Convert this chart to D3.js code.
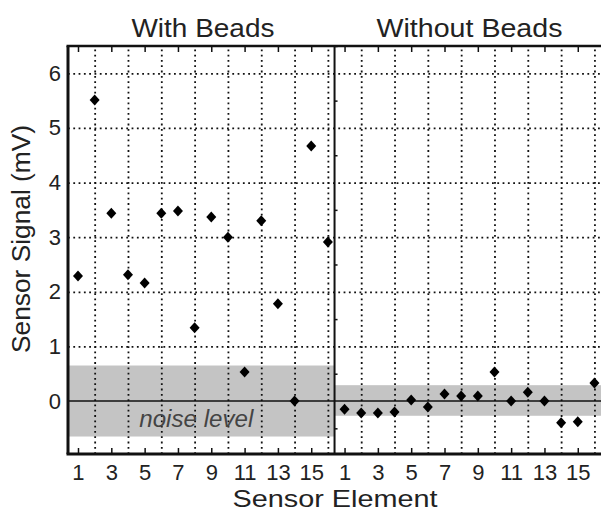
<!DOCTYPE html>
<html>
<head>
<meta charset="utf-8">
<script src="https://cdn.jsdelivr.net/npm/d3@7"></script>
<style>
  body { margin: 0; background: #fff; }
  svg { font-family: "Liberation Sans", Arial, sans-serif; }
  .grid line { stroke: #111; stroke-width: 1.8; stroke-dasharray: 1.8,3.5; }
  .grid path, .lab path, .tk path { display: none; }
  .tk line { stroke: #111; stroke-width: 1.5; }
  .lab text { font-size: 22px; fill: #222; }
</style>
</head>
<body>
<div id="chart"></div>
<script>
/* data */
const elements = [1, 2, 3, 4, 5, 6, 7, 8, 9, 10, 11, 12, 13, 14, 15, 16]
const withBeads = [2.29, 5.51, 3.44, 2.31, 2.16, 3.44, 3.48, 1.34, 3.37, 3.00, 0.53, 3.30, 1.78, 0.00, 4.67, 2.91]
const withoutBeads = [-0.15, -0.22, -0.22, -0.20, 0.02, -0.11, 0.13, 0.09, 0.09, 0.53, 0.00, 0.16, 0.00, -0.40, -0.38, 0.33]
const panelTitles = ["With Beads", "Without Beads"]
const noiseHigh = [0.65, 0.29]
const noiseLow = [-0.65, -0.27]
const xTickLabels = [1, 3, 5, 7, 9, 11, 13, 15]
const gridElements = [2, 4, 6, 8, 10, 12, 14, 16]
const yTicks = [0, 1, 2, 3, 4, 5, 6]
const yGrid = [1, 2, 3, 4, 5, 6]
const yMinor = [-0.5, 0.5, 1.5, 2.5, 3.5, 4.5, 5.5, 6.5]

const W = 601, H = 513
const LEFT = 68, TOP = 46, BOTTOM = 454

const svg = d3.select("#chart").append("svg")
  .attr("width", W)
  .attr("height", H)

// one continuous position axis: panel 1 = 1..16, panel 2 = 17..32
const x = d3.scaleLinear().domain([0.4, 32.4]).range([LEFT, 601.1])
const y = d3.scaleLinear().domain([-0.97, 6.5]).range([BOTTOM, TOP])
const N = elements.length

const panels = [
  { title: panelTitles[0], values: withBeads, offset: 0, hi: noiseHigh[0], lo: noiseLow[0] },
  { title: panelTitles[1], values: withoutBeads, offset: N, hi: noiseHigh[1], lo: noiseLow[1] }
]

const plot = svg.append("g")

// noise bands
plot.selectAll(".band")
  .data(panels)
  .enter().append("rect")
  .attr("class", "band")
  .attr("x", d => x(d.offset + 0.4))
  .attr("width", x(N + 0.4) - x(0.4))
  .attr("y", d => y(d.hi))
  .attr("height", d => y(d.lo) - y(d.hi))
  .attr("fill", "#c4c4c4")

const gridPos = panels.flatMap(p => gridElements.map(e => e + p.offset))
const labelPos = panels.flatMap(p => xTickLabels.map(e => e + p.offset))

// vertical dotted grid
plot.append("g")
  .attr("class", "grid")
  .attr("transform", `translate(0, ${BOTTOM})`)
  .call(d3.axisBottom(x).tickValues(gridPos).tickSize(-(BOTTOM - TOP)).tickFormat(""))

// horizontal dotted grid
plot.append("g")
  .attr("class", "grid")
  .attr("transform", `translate(${LEFT}, 0)`)
  .call(d3.axisLeft(y).tickValues(yGrid).tickSize(-(W - LEFT)).tickFormat(""))

// zero line
plot.append("line")
  .attr("x1", x(0.4)).attr("x2", W)
  .attr("y1", y(0)).attr("y2", y(0))
  .attr("stroke", "#111").attr("stroke-width", 1.6)

// noise label
plot.append("text")
  .attr("x", x(8.1))
  .attr("y", 427)
  .attr("text-anchor", "middle")
  .attr("textLength", 114)
  .attr("lengthAdjust", "spacingAndGlyphs")
  .style("font-size", "24px")
  .style("font-style", "italic")
  .attr("fill", "#444")
  .text("noise level")

// tick marks, inward, top and bottom
plot.append("g")
  .attr("class", "tk")
  .attr("transform", `translate(0, ${BOTTOM})`)
  .call(d3.axisBottom(x).tickValues(labelPos).tickSize(-6).tickFormat(""))
plot.append("g")
  .attr("class", "tk")
  .attr("transform", `translate(0, ${TOP})`)
  .call(d3.axisTop(x).tickValues(labelPos).tickSize(-6).tickFormat(""))

// minor ticks on the divider
plot.append("g")
  .attr("class", "tk")
  .attr("transform", `translate(${x(N + 0.4)}, 0)`)
  .call(d3.axisRight(y).tickValues(yMinor).tickSize(3).tickFormat(""))

// tick labels
plot.append("g")
  .attr("class", "lab")
  .attr("transform", `translate(0, ${BOTTOM})`)
  .call(d3.axisBottom(x).tickValues(labelPos).tickSize(0).tickPadding(10)
    .tickFormat(p => p > N ? p - N : p))

plot.append("g")
  .attr("class", "lab")
  .attr("transform", `translate(${LEFT}, 0)`)
  .call(d3.axisLeft(y).tickValues(yTicks).tickSize(0).tickPadding(7))

// frame
plot.append("line").attr("x1", LEFT - 1.5).attr("x2", W).attr("y1", TOP).attr("y2", TOP)
  .attr("stroke", "#111").attr("stroke-width", 2.5)
plot.append("line").attr("x1", LEFT - 1.5).attr("x2", W).attr("y1", BOTTOM).attr("y2", BOTTOM)
  .attr("stroke", "#111").attr("stroke-width", 3)
plot.append("line").attr("x1", LEFT).attr("x2", LEFT).attr("y1", TOP).attr("y2", BOTTOM)
  .attr("stroke", "#111").attr("stroke-width", 3)
plot.append("line").attr("x1", x(N + 0.4)).attr("x2", x(N + 0.4)).attr("y1", TOP).attr("y2", BOTTOM)
  .attr("stroke", "#111").attr("stroke-width", 2)

// markers
panels.forEach(p => {
  plot.selectAll(null)
    .data(p.values)
    .enter().append("path")
    .attr("transform", (d, i) => `translate(${x(elements[i] + p.offset)}, ${y(d)})`)
    .attr("d", "M0,-5.5L5,0L0,5.5L-5,0Z")
    .attr("fill", "#000")
})

// panel titles
svg.selectAll(".title")
  .data(panels)
  .enter().append("text")
  .attr("class", "title")
  .attr("x", d => x(d.offset + 8.5))
  .attr("y", 37)
  .attr("text-anchor", "middle")
  .attr("textLength", (d, i) => i == 0 ? 143 : 186)
  .attr("lengthAdjust", "spacingAndGlyphs")
  .style("font-size", "26px")
  .attr("fill", "#222")
  .text(d => d.title)

// axis titles
svg.append("text")
  .attr("x", 335)
  .attr("y", 507)
  .attr("text-anchor", "middle")
  .attr("textLength", 205)
  .attr("lengthAdjust", "spacingAndGlyphs")
  .style("font-size", "24px")
  .attr("fill", "#222")
  .text("Sensor Element")

svg.append("text")
  .attr("transform", "translate(30, 239) rotate(-90)")
  .attr("text-anchor", "middle")
  .attr("textLength", 228)
  .attr("lengthAdjust", "spacingAndGlyphs")
  .style("font-size", "25px")
  .attr("fill", "#222")
  .text("Sensor Signal (mV)")
</script>
</body>
</html>
